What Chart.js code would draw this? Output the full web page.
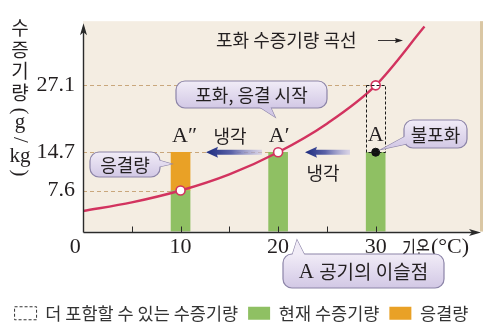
<!DOCTYPE html>
<html>
<head>
<meta charset="utf-8">
<script src="https://cdn.jsdelivr.net/npm/chart.js@4.4.1/dist/chart.umd.min.js"></script>
<style>
html, body { margin: 0; padding: 0; background: #fff; }
</style>
</head>
<body>
<canvas id="vapor" width="492" height="327"></canvas>
<script>
// 포화 수증기량 곡선 (기온 ℃ -> g/kg)
var curveTemps = [0, 5, 10, 15, 20, 25, 30, 35];
var curveValues = [3.8, 5.4, 7.6, 10.6, 14.7, 20.0, 27.1, 38.0];

// 현재 수증기량 막대
var barTemps = [10, 20, 30];
var currentVapor = [7.6, 14.7, 14.7];

// 응결량 (A'' 에서)
var condTemps = [10];
var condLow = [7.6];
var condHigh = [14.7];

// 더 포함할 수 있는 수증기량 (A 에서)
var spareTemps = [30];
var spareLow = [14.7];
var spareHigh = [27.1];

// 곡선 위의 점 A'', A', 포화점
var satTemps = [10, 20, 30];
var satValues = [7.6, 14.7, 27.1];

// 공기 A 의 상태
var stateTemps = [30];
var stateValues = [14.7];

var yTickValues = [7.6, 14.7, 27.1];
var xTickLabels = [0, 10, 20, 30];

var SERIF = '"Liberation Serif", "DejaVu Serif", serif';
var SANS = '"Noto Sans CJK KR", "Noto Sans", sans-serif';
var RED = '#d2335f';
var INK = '#231f20';

function xy(xs, ys) {
    return xs.map(function (x, i) { return { x: x, y: ys[i] }; });
}
function range(xs, lo, hi) {
    return xs.map(function (x, i) { return { x: x, y: [lo[i], hi[i]] }; });
}

function roundRect(ctx, x, y, w, h, r) {
    ctx.beginPath();
    ctx.moveTo(x + r, y);
    ctx.arcTo(x + w, y, x + w, y + h, r);
    ctx.arcTo(x + w, y + h, x, y + h, r);
    ctx.arcTo(x, y + h, x, y, r);
    ctx.arcTo(x, y, x + w, y, r);
    ctx.closePath();
}

function callout(ctx, box, tail, parts) {
    var g = ctx.createLinearGradient(0, box[1], 0, box[1] + box[3]);
    g.addColorStop(0, '#f1ecf7');
    g.addColorStop(1, '#d2c8e5');
    ctx.save();
    ctx.lineWidth = 1.2;
    ctx.strokeStyle = '#8c84a8';
    ctx.fillStyle = g;
    // tail
    ctx.beginPath();
    ctx.moveTo(tail[0], tail[1]);
    ctx.lineTo(tail[2], tail[3]);
    ctx.lineTo(tail[4], tail[5]);
    ctx.closePath();
    ctx.fill();
    ctx.stroke();
    roundRect(ctx, box[0], box[1], box[2], box[3], 9);
    ctx.fill();
    ctx.stroke();
    ctx.beginPath();
    ctx.moveTo(tail[0], tail[1]);
    ctx.lineTo(tail[2], tail[3]);
    ctx.lineTo(tail[4], tail[5]);
    ctx.closePath();
    ctx.fill();
    // text
    var cx = box[0] + box[2] / 2, cy = box[1] + box[3] / 2 + 1;
    var total = 0;
    parts.forEach(function (p) { ctx.font = p.font; p.w = ctx.measureText(p.text).width; total += p.w; });
    var x = cx - total / 2;
    ctx.fillStyle = INK;
    ctx.textBaseline = 'middle';
    ctx.textAlign = 'left';
    parts.forEach(function (p) { ctx.font = p.font; ctx.fillText(p.text, x, cy); x += p.w; });
    ctx.restore();
}

function blueArrow(ctx, tailX, tipX, y) {
    var g = ctx.createLinearGradient(tailX, 0, tipX, 0);
    g.addColorStop(0, 'rgba(200,196,232,0.6)');
    g.addColorStop(0.55, '#5a62a8');
    g.addColorStop(1, '#1b2a7e');
    ctx.save();
    ctx.fillStyle = g;
    ctx.beginPath();
    ctx.moveTo(tipX, y);
    ctx.lineTo(tipX + 12, y - 5.5);
    ctx.lineTo(tipX + 11, y - 2.5);
    ctx.lineTo(tailX, y - 2.5);
    ctx.lineTo(tailX, y + 2.5);
    ctx.lineTo(tipX + 11, y + 2.5);
    ctx.lineTo(tipX + 12, y + 5.5);
    ctx.closePath();
    ctx.fill();
    ctx.restore();
}

function text(ctx, str, x, y, font, align) {
    ctx.font = font;
    ctx.textAlign = align || 'center';
    ctx.textBaseline = 'middle';
    ctx.fillStyle = INK;
    ctx.fillText(str, x, y);
}

var sketch = {
    id: 'sketch',
    beforeDraw: function (chart) {
        var ctx = chart.ctx, a = chart.chartArea;
        ctx.save();
        ctx.fillStyle = '#f4ede2';
        ctx.fillRect(a.left, a.top, a.right - a.left, a.bottom - a.top);
        ctx.fillStyle = '#dac7a4';
        ctx.fillRect(a.right - 3, a.top, 3, a.bottom - a.top);
        ctx.restore();
    },
    beforeDatasetsDraw: function (chart) {
        var ctx = chart.ctx, xs = chart.scales.x, ys = chart.scales.y;
        var x0 = xs.getPixelForValue(0);
        ctx.save();
        ctx.strokeStyle = '#c9a77c';
        ctx.lineWidth = 1;
        ctx.setLineDash([4, 3]);
        satTemps.forEach(function (t, i) {
            var y = Math.round(ys.getPixelForValue(satValues[i])) + 0.5;
            var x1 = xs.getPixelForValue(t) + (i === satTemps.length - 1 ? 9 : 0);
            ctx.beginPath();
            ctx.moveTo(x0, y);
            ctx.lineTo(x1, y);
            ctx.stroke();
        });
        ctx.restore();
    },
    afterDatasetsDraw: function (chart) {
        var ctx = chart.ctx, a = chart.chartArea, xs = chart.scales.x, ys = chart.scales.y;
        var px = function (v) { return xs.getPixelForValue(v); };
        var py = function (v) { return ys.getPixelForValue(v); };

        // dashed box: 더 포함할 수 있는 수증기량
        var spare = chart.getDatasetMeta(3).data[0];
        ctx.save();
        ctx.strokeStyle = '#1a1a1a';
        ctx.lineWidth = 1;
        ctx.setLineDash([3, 2]);
        var bx = Math.round(spare.x - spare.width / 2) + 0.5;
        ctx.strokeRect(bx, Math.round(spare.y) + 0.5, Math.round(spare.width), Math.round(spare.base - spare.y));
        ctx.restore();

        // axes with arrows
        var ox = Math.round(a.left) + 0.5, oy = Math.round(a.bottom) + 0.5;
        ctx.save();
        ctx.strokeStyle = '#2a2a2a';
        ctx.fillStyle = '#2a2a2a';
        ctx.lineWidth = 1.4;
        ctx.beginPath();
        ctx.moveTo(ox, oy);
        ctx.lineTo(a.right - 10, oy);
        ctx.moveTo(ox, oy);
        ctx.lineTo(ox, a.top + 6);
        ctx.stroke();
        ctx.beginPath();
        ctx.moveTo(a.right - 2, oy);
        ctx.lineTo(a.right - 14, oy - 3.5);
        ctx.lineTo(a.right - 11, oy);
        ctx.lineTo(a.right - 14, oy + 3.5);
        ctx.closePath();
        ctx.fill();
        ctx.beginPath();
        ctx.moveTo(ox, a.top + 2);
        ctx.lineTo(ox - 3.5, a.top + 14);
        ctx.lineTo(ox, a.top + 11);
        ctx.lineTo(ox + 3.5, a.top + 14);
        ctx.closePath();
        ctx.fill();
        // inner tick marks every 5 ℃
        ctx.lineWidth = 1;
        for (var t = 5; t <= 30; t += 5) {
            var tx = Math.round(px(t)) + 0.5;
            ctx.beginPath();
            ctx.moveTo(tx, oy);
            ctx.lineTo(tx, oy - 6);
            ctx.stroke();
        }
        ctx.restore();

        ctx.save();
        // x axis title
        ctx.save();
        ctx.translate(402, 248);
        ctx.scale(0.72, 1);
        text(ctx, '기온', 0, 0, '21px ' + SANS, 'left');
        ctx.restore();
        text(ctx, '(°C)', 431, 247, '22px ' + SERIF, 'left');

        // y axis title, written vertically
        var hangul = ['수', '증', '기', '량'];
        hangul.forEach(function (ch, i) { text(ctx, ch, 20, 28 + i * 21.5, '19px ' + SANS); });
        var vert = [['(', 111, true], ['g', 122, false], ['/', 140, true], ['kg', 156, false], [')', 173, true]];
        vert.forEach(function (v) {
            ctx.save();
            ctx.translate(20, v[1]);
            if (v[2]) ctx.rotate(Math.PI / 2);
            text(ctx, v[0], 0, 0, '21px ' + SERIF);
            ctx.restore();
        });

        // curve name with pointer
        text(ctx, '포화 수증기량 곡선', 216, 40, '18px ' + SANS, 'left');
        ctx.strokeStyle = INK;
        ctx.fillStyle = INK;
        ctx.lineWidth = 0.9;
        ctx.beginPath();
        ctx.moveTo(378, 40.5);
        ctx.lineTo(400, 40.5);
        ctx.stroke();
        ctx.beginPath();
        ctx.moveTo(403, 40.5);
        ctx.lineTo(395, 38);
        ctx.lineTo(396, 40.5);
        ctx.lineTo(395, 43);
        ctx.closePath();
        ctx.fill();

        // point labels
        var lblY = py(14.7) - 16;
        text(ctx, 'A″', px(10) + 4, lblY, '22px ' + SERIF);
        text(ctx, '냉각', 230, lblY, '18px ' + SANS);
        text(ctx, 'A′', px(20) + 1, lblY, '22px ' + SERIF);
        text(ctx, 'A', px(30), lblY - 1, '22px ' + SERIF);
        text(ctx, '냉각', 323, py(14.7) + 21, '18px ' + SANS);
        ctx.restore();

        // cooling arrows
        blueArrow(ctx, 262, 206, py(14.7));
        blueArrow(ctx, 350, 305, py(14.7));

        // callouts
        callout(ctx, [176, 81, 151, 27], [258, 106, 275, 117, 270, 106],
            [{ text: '포화, 응결 시작', font: '18px ' + SANS }]);
        callout(ctx, [90, 152, 70, 25], [158, 160, px(10) - 9, 164, 158, 167],
            [{ text: '응결량', font: '18px ' + SANS }]);
        callout(ctx, [404, 120, 63, 28], [406, 136, px(30) + 6, py(14.7) - 3, 406, 144],
            [{ text: '불포화', font: '18px ' + SANS }]);
        callout(ctx, [283, 254, 161, 34], [292, 256, 297, 240, 305, 256],
            [{ text: 'A ', font: '21px ' + SERIF }, { text: '공기의 이슬점', font: '19px ' + SANS }]);
    }
};

var ctx = document.getElementById('vapor').getContext('2d');
var vaporChart = new Chart(ctx, {
    type: 'bar',
    data: {
        datasets: [
            {
                type: 'line',
                label: 'sat',
                data: xy(satTemps, satValues),
                showLine: false,
                pointRadius: 4.5,
                pointBackgroundColor: '#ffffff',
                pointBorderColor: RED,
                pointBorderWidth: 1.6,
                order: 0
            },
            {
                type: 'line',
                label: 'A',
                data: xy(stateTemps, stateValues),
                showLine: false,
                pointRadius: 4,
                pointBackgroundColor: '#111',
                pointBorderColor: '#111',
                order: 0
            },
            {
                type: 'line',
                label: '포화 수증기량 곡선',
                data: xy(curveTemps, curveValues),
                borderColor: RED,
                borderWidth: 2.4,
                pointRadius: 0,
                cubicInterpolationMode: 'monotone',
                order: 1
            },
            {
                label: '더 포함할 수 있는 수증기량',
                data: range(spareTemps, spareLow, spareHigh),
                backgroundColor: 'rgba(0,0,0,0)',
                barThickness: 19,
                grouped: false,
                order: 2
            },
            {
                label: '현재 수증기량',
                data: xy(barTemps, currentVapor),
                backgroundColor: '#8fc063',
                barThickness: 19,
                grouped: false,
                order: 2
            },
            {
                label: '응결량',
                data: range(condTemps, condLow, condHigh),
                backgroundColor: '#e9a126',
                barThickness: 19,
                grouped: false,
                order: 2
            }
        ]
    },
    options: {
        responsive: false,
        animation: false,
        devicePixelRatio: 1,
        layout: { padding: { top: 7, right: 9, left: 0, bottom: -5 } },
        scales: {
            x: {
                type: 'linear',
                offset: false,
                min: 0,
                max: 41,
                grid: { display: false, drawTicks: false, offset: false },
                border: { display: false },
                afterFit: function (scale) { scale.height = 63; },
                ticks: {
                    stepSize: 5,
                    autoSkip: false,
                    maxRotation: 0,
                    padding: 3,
                    color: INK,
                    font: { family: SERIF, size: 22 },
                    callback: function (v) {
                        if (xTickLabels.indexOf(v) < 0) return '';
                        return v === 0 ? '0\u2002\u2009' : String(v);
                    }
                }
            },
            y: {
                min: 0,
                max: 39,
                grid: { display: false, drawTicks: false },
                border: { display: false },
                afterFit: function (scale) { scale.width = 83; },
                afterBuildTicks: function (scale) {
                    scale.ticks = yTickValues.map(function (v) { return { value: v }; });
                },
                ticks: {
                    padding: 8,
                    color: INK,
                    font: { family: SERIF, size: 22 },
                    callback: function (v) { return String(v); }
                }
            }
        },
        plugins: {
            tooltip: { enabled: false },
            legend: {
                position: 'bottom',
                labels: {
                    boxWidth: 22,
                    boxHeight: 13,
                    padding: 10,
                    color: '#333',
                    font: { family: SANS, size: 17.5 },
                    generateLabels: function (chart) {
                        return [3, 4, 5].map(function (i) {
                            var ds = chart.data.datasets[i];
                            return {
                                text: ds.label,
                                fillStyle: i === 3 ? 'rgba(0,0,0,0)' : ds.backgroundColor,
                                strokeStyle: i === 3 ? '#333' : ds.backgroundColor,
                                lineWidth: i === 3 ? 1 : 0,
                                lineDash: i === 3 ? [3, 2] : [],
                                datasetIndex: i,
                                fontColor: '#333'
                            };
                        });
                    }
                }
            }
        }
    },
    plugins: [sketch]
});
</script>
</body>
</html>
